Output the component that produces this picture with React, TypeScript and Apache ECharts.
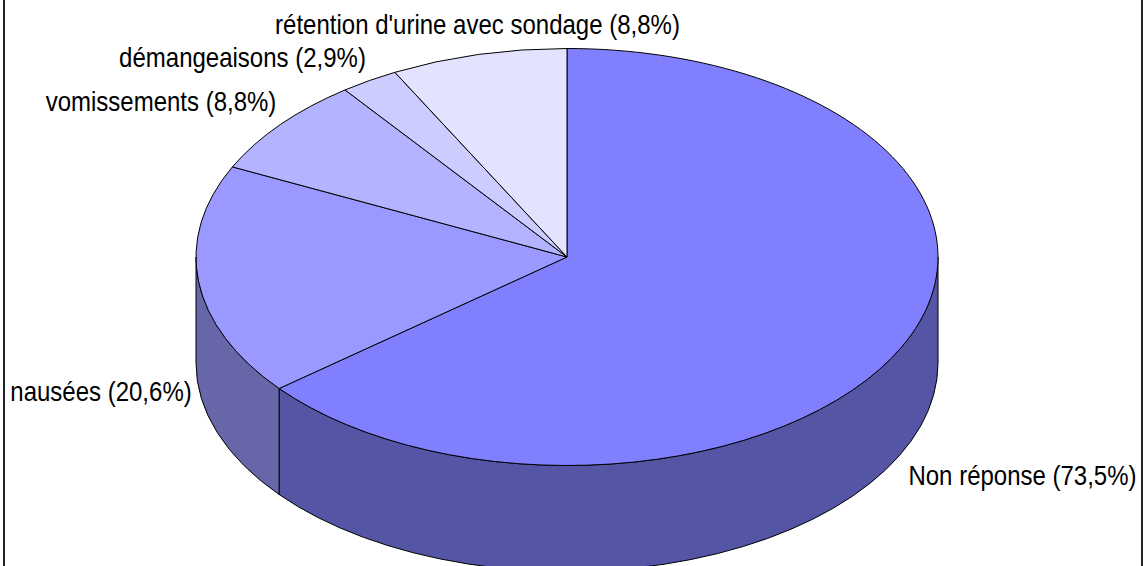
import React, { useEffect, useRef } from "react";
import * as echarts from "echarts";

const categories = [
  "Non réponse",
  "nausées",
  "vomissements",
  "démangeaisons",
  "rétention d'urine avec sondage",
];
const values = [73.5, 20.6, 8.8, 2.9, 8.8];
const topColors = ["#8080FF", "#9999FF", "#B3B3FF", "#CCCCFF", "#E3E3FF"];
const sideColors = ["#5555A5", "#6666A8", "#7777B0", "#8888B8", "#9797C0"];

const labelAnchors = [
  [1022.5, 475.5],
  [101, 391.5],
  [161, 101.5],
  [242.5, 57.5],
  [477.5, 24.5],
];

const CX = 567;
const CY = 257;
const RX = 371;
const RY = 208.5;
const DEPTH = 106;
const total = values.reduce((a, b) => a + b, 0);

const angleAt = (i: number) =>
  (values.slice(0, i).reduce((a, b) => a + b, 0) / total) * Math.PI * 2;
const px = (t: number) => CX + RX * Math.sin(t);
const py = (t: number, d = 0) => CY - RY * Math.cos(t) + d;

const label = (i: number) =>
  `${categories[i]} (${values[i].toFixed(1).replace(".", ",")}%)`;

function topPath(i: number) {
  const a = angleAt(i);
  const b = angleAt(i + 1);
  const large = b - a > Math.PI ? 1 : 0;
  return `M${CX} ${CY}L${px(a)} ${py(a)}A${RX} ${RY} 0 ${large} 1 ${px(b)} ${py(b)}Z`;
}

function sidePath(i: number) {
  const a = Math.max(angleAt(i), Math.PI / 2);
  const b = Math.min(angleAt(i + 1), (Math.PI * 3) / 2);
  if (b <= a) return null;
  return (
    `M${px(a)} ${py(a)}A${RX} ${RY} 0 0 1 ${px(b)} ${py(b)}` +
    `L${px(b)} ${py(b, DEPTH)}A${RX} ${RY} 0 0 0 ${px(a)} ${py(a, DEPTH)}Z`
  );
}

export default function App() {
  const ref = useRef<HTMLDivElement>(null);
  useEffect(() => {
    if (!ref.current) return;
    const chart = echarts.init(ref.current, undefined, { renderer: "svg" });
    const stroke = { stroke: "#000", lineWidth: 1 };
    chart.setOption({
      animation: false,
      backgroundColor: "#fff",
      series: [
        {
          type: "custom",
          coordinateSystem: "none",
          silent: true,
          clip: false,
          z: 1,
          data: values,
          renderItem: (params: any) => {
            const d = sidePath(params.dataIndex);
            if (!d) return { type: "group", children: [] };
            return {
              type: "path",
              shape: { pathData: d },
              style: { fill: sideColors[params.dataIndex], ...stroke },
            };
          },
        },
        {
          type: "custom",
          coordinateSystem: "none",
          silent: true,
          clip: false,
          z: 2,
          data: values,
          renderItem: (params: any) => ({
            type: "path",
            shape: { pathData: topPath(params.dataIndex) },
            style: { fill: topColors[params.dataIndex], ...stroke },
          }),
        },
      ],
      graphic: {
        elements: [
          {
            type: "line",
            z: 10,
            shape: { x1: 4, y1: 0, x2: 4, y2: 566 },
            style: { stroke: "#222", lineWidth: 2 },
          },
          {
            type: "line",
            z: 10,
            shape: { x1: 1142, y1: 0, x2: 1142, y2: 566 },
            style: { stroke: "#222", lineWidth: 2 },
          },
          ...categories.map((_, i) => ({
            type: "text",
            z: 11,
            x: labelAnchors[i][0],
            y: labelAnchors[i][1],
            scaleY: 1.15,
            style: {
              text: label(i),
              fontFamily: "Liberation Sans",
              fontSize: 24,
              fill: "#000",
              textAlign: "center",
              textVerticalAlign: "middle",
              verticalAlign: "middle",
              align: "center",
            },
          })),
        ],
      },
    });
    return () => chart.dispose();
  }, []);
  return (
    <div
      ref={ref}
      style={{ position: "absolute", left: 0, top: 0, width: 1147, height: 566 }}
    />
  );
}
